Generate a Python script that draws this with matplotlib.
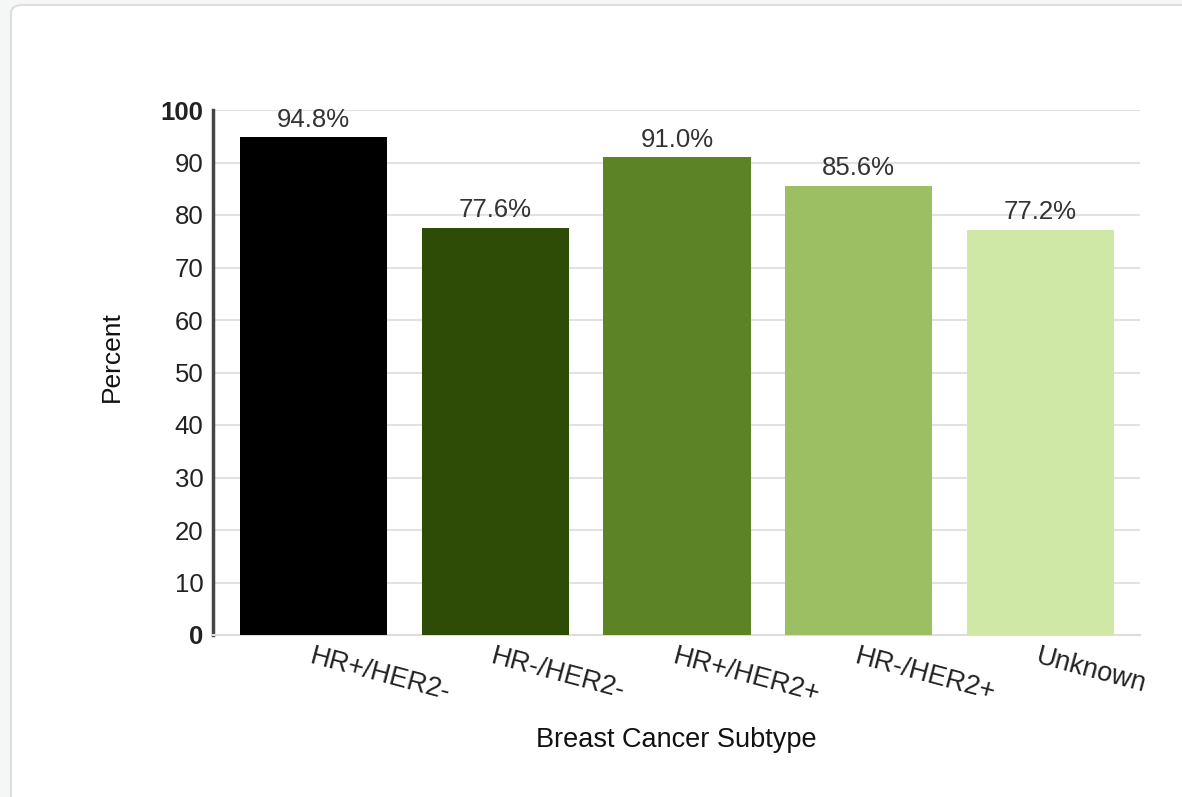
import matplotlib.pyplot as plt
from matplotlib.patches import FancyBboxPatch

plt.rcParams['font.family'] = ['Liberation Sans', 'DejaVu Sans']

subtypes = ["HR+/HER2-", "HR-/HER2-", "HR+/HER2+", "HR-/HER2+", "Unknown"]
percent = [94.8, 77.6, 91.0, 85.6, 77.2]
bar_colors = ['#000000', '#2f4c06', '#5c8324', '#9cbf63', '#cfe8a6']
y_ticks = [0, 10, 20, 30, 40, 50, 60, 70, 80, 90, 100]

fig = plt.figure(figsize=(11.82, 7.97), dpi=100)
fig.patch.set_facecolor('#f5f6f6')

# white card behind the chart
card = FancyBboxPatch((11 / 1182, -0.05), 1.2, 1.05 - 5 / 797,
                      boxstyle="round,pad=0,rounding_size=0.01",
                      transform=fig.transFigure, facecolor='white',
                      edgecolor='#dedede', linewidth=1.5, zorder=-10)
fig.add_artist(card)

ax = fig.add_axes([213 / 1182, 1 - 635 / 797, (1140 - 213) / 1182, (635 - 110) / 797])
ax.set_facecolor('none')
ax.set_zorder(1)

x = list(range(len(subtypes)))
bars = ax.bar(x, percent, width=0.81, color=bar_colors, zorder=3)
for b, v in zip(bars, percent):
    ax.annotate(f"{v:.1f}%", (b.get_x() + b.get_width() / 2, v),
                xytext=(0, 4), textcoords='offset points', ha='center', va='bottom',
                fontsize=18.5, color='#333333')

ax.set_xlim(-0.553, 4.548)
ax.set_ylim(0, 100)
ax.set_yticks(y_ticks)
ax.set_yticklabels([str(t) for t in y_ticks])
for lbl in ax.get_yticklabels():
    if lbl.get_text() in ('0', '100'):
        lbl.set_fontweight('bold')
ax.tick_params(axis='y', length=0, pad=7, labelsize=18.5, labelcolor='#222222')
ax.set_xticks(x)
ax.set_xticklabels(subtypes, rotation=-15, ha='left', rotation_mode='anchor',
                   fontsize=19.5, color='#222222')
ax.tick_params(axis='x', length=0, pad=6)

ax.grid(axis='y', color='#e2e2e2', linewidth=1.5, zorder=0)
for side in ('top', 'right'):
    ax.spines[side].set_visible(False)
ax.spines['bottom'].set_color('#dddddd')
ax.spines['bottom'].set_linewidth(1.5)
ax.spines['left'].set_color('#444444')
ax.spines['left'].set_linewidth(2.5)

ax.set_ylabel("Percent", fontsize=19, color='#111111')
ax.yaxis.set_label_coords(-0.096, 0.53)
ax.set_xlabel("Breast Cancer Subtype", fontsize=19.5, color='#111111')
ax.xaxis.set_label_coords(0.5, -0.175)

fig.savefig("out.png", dpi=100, facecolor=fig.get_facecolor())
